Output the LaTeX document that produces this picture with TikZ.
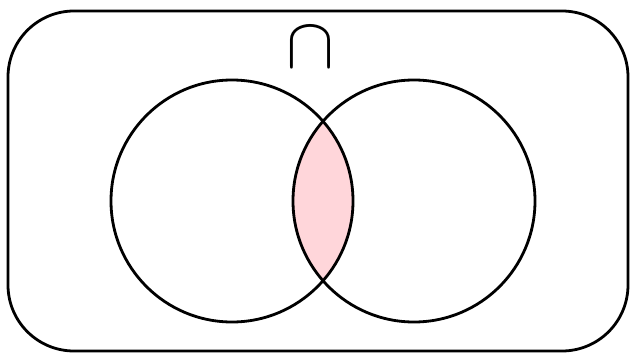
\documentclass[tikz,border=0pt]{standalone}
\definecolor{lenspink}{RGB}{255,214,218}
\tikzset{
  outline/.style={line width=2.8pt, draw=black},
}
\begin{document}
\begin{tikzpicture}[x=1pt,y=-1pt]
\useasboundingbox (0,0) rectangle (632,353);
\coordinate (A) at (232,201);
\coordinate (B) at (414,201);
\draw[outline, rounded corners=66pt] (8,11) rectangle (628,351);
\begin{scope}
  \clip (A) circle (121);
  \fill[lenspink] (B) circle (121);
\end{scope}
\node[circle, outline, minimum size=242pt, inner sep=0pt] (left) at (A) {};
\node[circle, outline, minimum size=242pt, inner sep=0pt] (right) at (B) {};
\node[scale=7.2, inner sep=0pt] (cap) at (310,48) {$\cap$};
\end{tikzpicture}
\end{document}
